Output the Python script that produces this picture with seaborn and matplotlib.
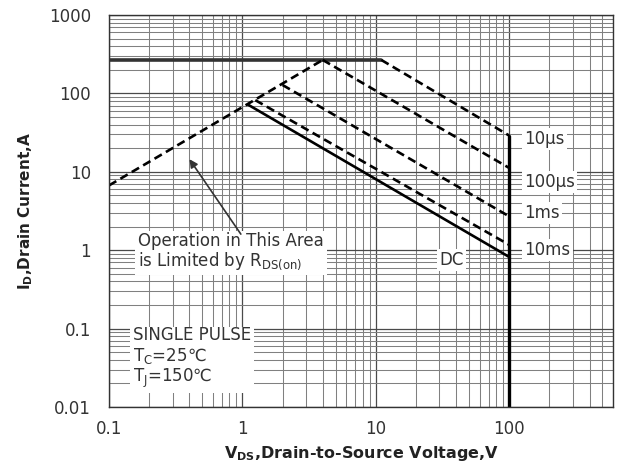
import matplotlib
matplotlib.use("Agg")
import matplotlib.pyplot as plt
import seaborn as sns
from matplotlib.ticker import LogLocator, FixedLocator, FixedFormatter, NullFormatter

# ---- data ----
rds_v = [0.1, 4.0];   rds_i = [6.7, 267]
lim_v = [0.1, 11.0];  lim_i = [267, 267]
us10_v = [11.0, 100]; us10_i = [267, 29]
us100_v = [4.0, 100]; us100_i = [267, 11.2]
ms1_v = [2.0, 100];   ms1_i = [128, 2.7]
ms10_v = [1.25, 100]; ms10_i = [82, 1.17]
dc_v = [1.1, 100];    dc_i = [72, 0.82]
bv_v = [100, 100];    bv_i = [29, 0.01]

x_ticks = [0.1, 1, 10, 100]
x_tick_labels = ["0.1", "1", "10", "100"]
y_ticks = [0.01, 0.1, 1, 10, 100, 1000]
y_tick_labels = ["0.01", "0.1", "1", "10", "100", "1000"]

curve_labels = ["10\u03bcs", "100\u03bcs", "1ms", "10ms"]
curve_label_y = [26, 7.4, 3.0, 1.0]

sns.set_theme(style="white")
plt.rcParams["font.family"] = ["DejaVu Sans"]
plt.rcParams["mathtext.fontset"] = "custom"
plt.rcParams["mathtext.rm"] = "DejaVu Sans"
plt.rcParams["mathtext.it"] = "DejaVu Sans:italic"
plt.rcParams["mathtext.bf"] = "DejaVu Sans:bold"

fig = plt.figure(figsize=(6.17, 4.68), dpi=100)
ax = fig.add_axes([109 / 617, 1 - 407 / 468, (613 - 109) / 617, (407 - 15) / 468])

ax.set_xscale("log")
ax.set_yscale("log")
ax.set_xlim(0.1, 600)
ax.set_ylim(0.01, 1000)

# grid
ax.xaxis.set_minor_locator(LogLocator(base=10, subs=range(2, 10)))
ax.yaxis.set_minor_locator(LogLocator(base=10, subs=range(2, 10)))
ax.xaxis.set_minor_formatter(NullFormatter())
ax.yaxis.set_minor_formatter(NullFormatter())
ax.grid(True, which="major", color="#4a4a4a", lw=0.9)
ax.grid(True, which="minor", color="#808080", lw=0.75)
ax.set_axisbelow(True)

dash = (3.2, 1.8)
lw = 1.9
sns.lineplot(x=lim_v, y=lim_i, ax=ax, color="#333333", lw=2.6, estimator=None, sort=False)
sns.lineplot(x=rds_v, y=rds_i, ax=ax, color="black", lw=lw, estimator=None, sort=False, linestyle=(0, dash))
sns.lineplot(x=us10_v, y=us10_i, ax=ax, color="black", lw=lw, estimator=None, sort=False, linestyle=(0, dash))
sns.lineplot(x=us100_v, y=us100_i, ax=ax, color="black", lw=lw, estimator=None, sort=False, linestyle=(0, dash))
sns.lineplot(x=ms1_v, y=ms1_i, ax=ax, color="black", lw=lw, estimator=None, sort=False, linestyle=(0, dash))
sns.lineplot(x=ms10_v, y=ms10_i, ax=ax, color="black", lw=lw, estimator=None, sort=False, linestyle=(0, dash))
sns.lineplot(x=dc_v, y=dc_i, ax=ax, color="black", lw=lw, estimator=None, sort=False)
sns.lineplot(x=bv_v, y=bv_i, ax=ax, color="black", lw=2.4, estimator=None, sort=False)

ax.xaxis.set_major_locator(FixedLocator(x_ticks))
ax.xaxis.set_major_formatter(FixedFormatter(x_tick_labels))
ax.yaxis.set_major_locator(FixedLocator(y_ticks))
ax.yaxis.set_major_formatter(FixedFormatter(y_tick_labels))
ax.tick_params(axis="both", which="both", length=0, labelsize=12, colors="#333333")
ax.tick_params(axis="y", pad=13)
ax.tick_params(axis="x", pad=9)

for s in ax.spines.values():
    s.set_color("#333333")
    s.set_linewidth(1.0)

ax.set_xlabel(r"$\mathbf{V_{DS}}$,Drain-to-Source Voltage,V", fontsize=11.5, fontweight="bold",
              color="#222222", labelpad=5)
ax.set_ylabel(r"$\mathbf{I_{D}}$,Drain Current,A", fontsize=11, fontweight="bold",
              color="#222222", labelpad=10)

fs = 12
box = dict(facecolor="white", edgecolor="none", pad=1.5)
for lab, yv in zip(curve_labels, curve_label_y):
    ax.text(130, yv, lab, fontsize=fs, color="#333333", va="center", ha="left", bbox=box)
ax.text(37, 0.74, "DC", fontsize=fs, color="#333333", va="center", ha="center", bbox=box)

ax.text(0.165, 0.95, "Operation in This Area\nis Limited by R$_{\\mathrm{DS(on)}}$", fontsize=fs,
        color="#333333", va="center", ha="left", linespacing=1.0,
        bbox=dict(facecolor="white", edgecolor="none", pad=2))
ax.annotate("", xy=(0.39, 15.5), xytext=(1.0, 1.5),
            arrowprops=dict(arrowstyle="-|>", color="#333333", lw=1.2, mutation_scale=12))

ax.text(0.152, 0.042, "SINGLE PULSE\nT$_{\\mathrm{C}}$=25\u2103\nT$_{\\mathrm{J}}$=150\u2103", fontsize=fs,
        color="#333333", va="center", ha="left", linespacing=1.1,
        bbox=dict(facecolor="white", edgecolor="none", pad=2))

fig.savefig("out.png", dpi=100)
